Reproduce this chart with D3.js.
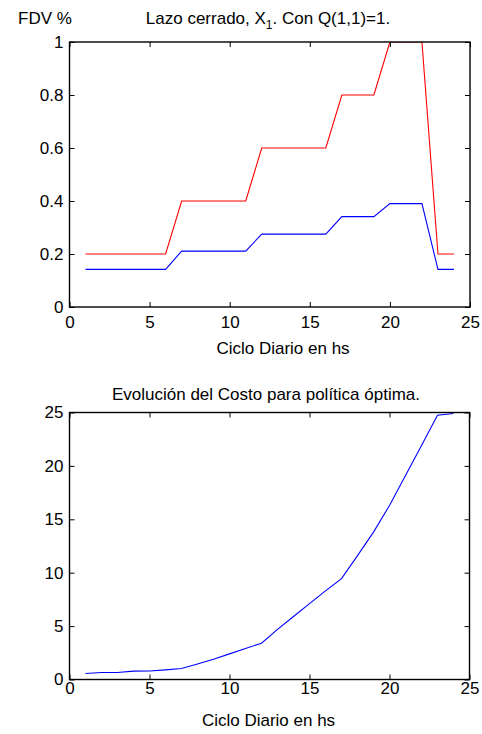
<!DOCTYPE html>
<html>
<head>
<meta charset="utf-8">
<script src="https://cdn.jsdelivr.net/npm/d3@7"></script>
<style>
  html, body { margin: 0; padding: 0; background: #fff; }
  svg { display: block; font-family: "Liberation Sans", Arial, sans-serif; }
</style>
</head>
<body>
<svg id="chart" width="482" height="734"></svg>
<script>
// ciclo diario (hs)
const horas = [1,2,3,4,5,6,7,8,9,10,11,12,13,14,15,16,17,18,19,20,21,22,23,24];
// FDV lazo cerrado
const fdvRojo = [0.2,0.2,0.2,0.2,0.2,0.2,0.4,0.4,0.4,0.4,0.4,0.6,0.6,0.6,0.6,0.6,0.8,0.8,0.8,1,1,1,0.2,0.2];
const fdvAzul = [0.142,0.142,0.142,0.142,0.142,0.142,0.211,0.211,0.211,0.211,0.211,0.275,0.275,0.275,0.275,0.275,0.341,0.341,0.341,0.39,0.39,0.39,0.142,0.142];
// costo para politica optima
const costo = [0.56,0.65,0.66,0.78,0.8,0.9,1.03,1.45,1.9,2.4,2.9,3.4,4.7,5.9,7.1,8.3,9.45,11.6,13.8,16.3,19.1,21.9,24.75,24.9];

const xTicks = [0,5,10,15,20,25];
const yTicksFdv = [0,0.2,0.4,0.6,0.8,1];
const yTicksCosto = [0,5,10,15,20,25];

const svg = d3.select("#chart");
const FS = "17px";

function panel(opts){
  const { top, bottom, left, right, yDomain, yTicks, yFmt, series, padX, clipId } = opts;
  const x = d3.scaleLinear().domain([0,25]).range([left, right]);
  const y = d3.scaleLinear().domain(yDomain).range([bottom, top]);
  const g = svg.append("g");

  g.append("clipPath").attr("id", clipId)
    .append("rect").attr("x", left).attr("y", top)
    .attr("width", right-left).attr("height", bottom-top);

  // lineas
  const line = d3.line().x((d,i)=>x(horas[i])).y(d=>y(d));
  series.forEach(s=>{
    g.append("path")
      .datum(s.values)
      .attr("clip-path", `url(#${clipId})`)
      .attr("fill","none")
      .attr("stroke", s.color)
      .attr("stroke-width", 1.1)
      .attr("d", line);
  });

  // ejes con ticks hacia adentro (estilo MATLAB)
  const axB = g.append("g").attr("transform", `translate(0,${bottom})`)
    .call(d3.axisBottom(x).tickValues(xTicks).tickSizeInner(-5).tickSizeOuter(0).tickPadding(padX));
  const axT = g.append("g").attr("transform", `translate(0,${top})`)
    .call(d3.axisTop(x).tickValues(xTicks).tickSizeInner(-5).tickSizeOuter(0).tickFormat(""));
  const axL = g.append("g").attr("transform", `translate(${left},0)`)
    .call(d3.axisLeft(y).tickValues(yTicks).tickSizeInner(-5).tickSizeOuter(0).tickPadding(6).tickFormat(yFmt));
  const axR = g.append("g").attr("transform", `translate(${right},0)`)
    .call(d3.axisRight(y).tickValues(yTicks).tickSizeInner(-5).tickSizeOuter(0).tickFormat(""));

  [axB, axT, axL, axR].forEach(a=>{
    a.select(".domain").remove();
    a.selectAll("line").attr("stroke","#000").attr("stroke-width",1);
    a.selectAll("text").attr("fill","#000").style("font-size",FS).style("font-family","'Liberation Sans', Arial, sans-serif");
  });

  g.append("rect")
    .attr("x", left).attr("y", top)
    .attr("width", right-left).attr("height", bottom-top)
    .attr("fill","none").attr("stroke","#000").attr("stroke-width",1.4);

  return { x, y, g };
}

// ---- panel superior ----
panel({
  top: 42, bottom: 307, left: 69.5, right: 470,
  yDomain: [0,1], yTicks: yTicksFdv, yFmt: d3.format("~g"), padX: 9,
  clipId: "clipTop",
  series: [
    { values: fdvRojo, color: "#ff0000" },
    { values: fdvAzul, color: "#0000ff" }
  ]
});

svg.append("text").attr("x", 18).attr("y", 24).style("font-size",FS).text("FDV %");

const t1 = svg.append("text").attr("x", 268).attr("y", 24).attr("text-anchor","middle").style("font-size",FS);
t1.append("tspan").text("Lazo cerrado, X");
t1.append("tspan").attr("dy", 5).style("font-size","12px").text("1");
t1.append("tspan").attr("dy", -5).text(". Con Q(1,1)=1.");

svg.append("text").attr("x", 283).attr("y", 354).attr("text-anchor","middle").style("font-size",FS).text("Ciclo Diario en hs");

// ---- panel inferior ----
panel({
  top: 412.5, bottom: 679.5, left: 69.5, right: 469.5,
  yDomain: [0,25], yTicks: yTicksCosto, yFmt: d3.format("d"), padX: 2,
  clipId: "clipBot",
  series: [ { values: costo, color: "#0000ff" } ]
});

svg.append("text").attr("x", 266).attr("y", 400).attr("text-anchor","middle").style("font-size",FS)
  .text("Evolución del Costo para política óptima.");

svg.append("text").attr("x", 268.5).attr("y", 726).attr("text-anchor","middle").style("font-size",FS).text("Ciclo Diario en hs");
</script>
</body>
</html>
